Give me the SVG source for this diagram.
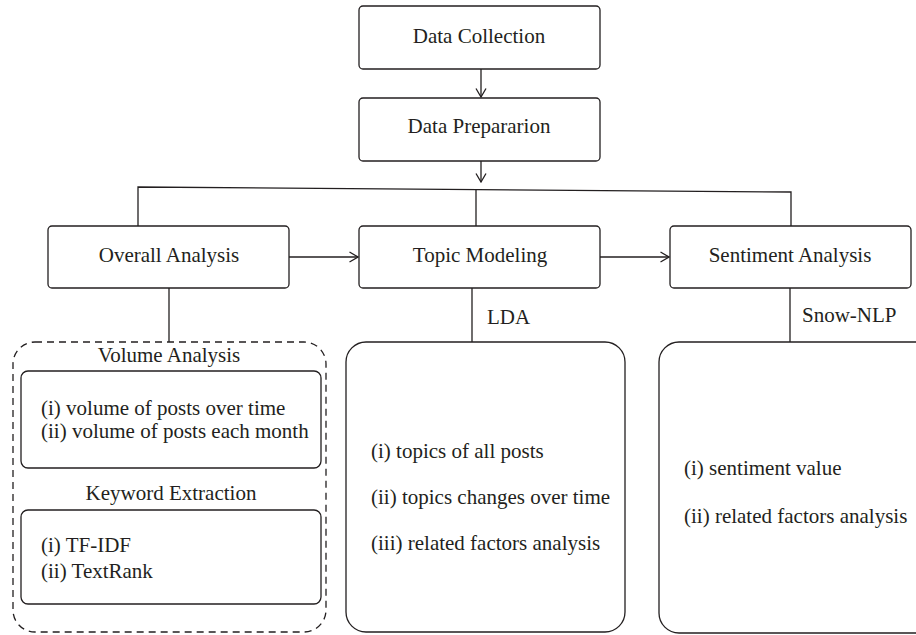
<svg xmlns="http://www.w3.org/2000/svg" width="916" height="635" viewBox="0 0 916 635" font-family="Liberation Serif, serif">
<style>
.box{fill:#fff;stroke:#231f20;stroke-width:1.3}
.dash{fill:none;stroke:#231f20;stroke-width:1.3;stroke-dasharray:7 5}
.ln{fill:none;stroke:#231f20;stroke-width:1.3}
text{font-family:'Liberation Serif','Times New Roman',serif;font-size:21px;fill:#231f20}
.c{text-anchor:middle}
</style>
<defs>
<marker id="ah" viewBox="0 0 10 12" refX="9.5" refY="6" markerWidth="10" markerHeight="12" markerUnits="userSpaceOnUse" orient="auto">
<path d="M1,1 L9.5,6 L1,11" fill="none" stroke="#231f20" stroke-width="1.3"/>
</marker>
</defs>
<rect width="916" height="635" fill="#fff"/>
<g id="connectors">
<line class="ln" x1="481" y1="69" x2="481" y2="97" marker-end="url(#ah)"/>
<line class="ln" x1="481" y1="161" x2="481" y2="182" marker-end="url(#ah)"/>
<polyline class="ln" points="138,226 138,187 791,192 791,226"/>
<line class="ln" x1="476" y1="189.5" x2="476" y2="226"/>
<line class="ln" x1="289" y1="257" x2="358" y2="257" marker-end="url(#ah)"/>
<line class="ln" x1="600" y1="257" x2="669" y2="257" marker-end="url(#ah)"/>
<line class="ln" x1="169" y1="288" x2="169" y2="342"/>
<line class="ln" x1="472" y1="288" x2="472" y2="342"/>
<line class="ln" x1="790" y1="288" x2="790" y2="342"/>
<text x="487" y="324">LDA</text>
<text x="802" y="322">Snow-NLP</text>
</g>
<g id="data-collection">
<rect class="box" x="359" y="6" width="241" height="63" rx="4"/>
<text class="c" x="479" y="43">Data Collection</text>
</g>
<g id="data-preparation">
<rect class="box" x="359" y="98" width="241" height="63" rx="4"/>
<text class="c" x="479" y="133">Data Prepararion</text>
</g>
<g id="overall-analysis">
<rect class="box" x="48" y="226" width="241" height="62" rx="4"/>
<text class="c" x="169" y="262">Overall Analysis</text>
</g>
<g id="topic-modeling">
<rect class="box" x="359" y="226" width="241" height="62" rx="4"/>
<text class="c" x="480" y="262">Topic Modeling</text>
</g>
<g id="sentiment-analysis">
<rect class="box" x="670" y="226" width="241" height="62" rx="4"/>
<text class="c" x="790" y="262">Sentiment Analysis</text>
</g>
<g id="overall-detail">
<rect class="dash" x="13" y="342" width="313" height="290" rx="22"/>
<text class="c" x="169" y="362">Volume Analysis</text>
<rect class="box" x="21" y="371" width="300" height="97" rx="7"/>
<text x="41" y="415">(i) volume of posts over time</text>
<text x="41" y="438">(ii) volume of posts each month</text>
<text class="c" x="171" y="500">Keyword Extraction</text>
<rect class="box" x="21" y="510" width="300" height="94" rx="7"/>
<text x="41" y="552">(i) TF-IDF</text>
<text x="41" y="578">(ii) TextRank</text>
</g>
<g id="topic-detail">
<rect class="box" x="346" y="342" width="279" height="290" rx="20"/>
<text x="371" y="458">(i) topics of all posts</text>
<text x="371" y="504">(ii) topics changes over time</text>
<text x="371" y="550">(iii) related factors analysis</text>
</g>
<g id="sentiment-detail">
<rect class="box" x="659" y="342" width="279" height="291" rx="20"/>
<text x="684" y="475">(i) sentiment value</text>
<text x="684" y="523">(ii) related factors analysis</text>
</g>
</svg>
